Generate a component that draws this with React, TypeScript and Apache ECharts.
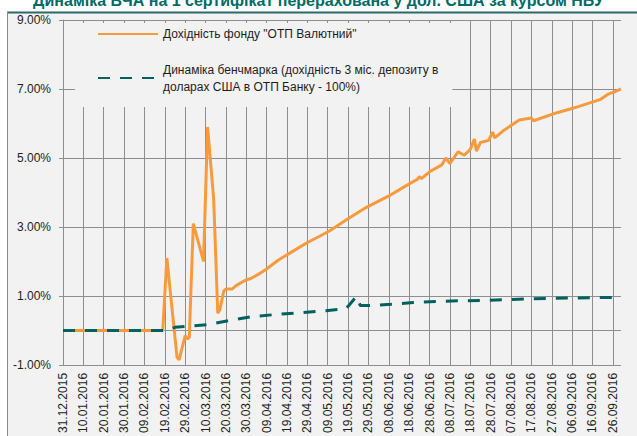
import React, { useEffect, useRef } from "react";
import * as echarts from "echarts";

const titleText = "Динаміка ВЧА на 1 сертифікат перерахована у дол. США за курсом НБУ";
const fundName = 'Дохідність фонду "ОТП Валютний"';
const benchName = "Динаміка бенчмарка";
const benchLegendLines = [
  "Динаміка бенчмарка (дохідність 3 міс. депозиту в",
  "доларах США в ОТП Банку - 100%)",
];

// daily category axis: 31.12.2015 .. 30.09.2016
const axisStart = [2015, 11, 31];
const axisDayCount = 275;
const pad2 = (n: number) => (n < 10 ? "0" + n : "" + n);
const categories: string[] = [];
for (let i = 0; i < axisDayCount; i++) {
  const d = new Date(Date.UTC(axisStart[0], axisStart[1], axisStart[2] + i));
  categories.push(pad2(d.getUTCDate()) + "." + pad2(d.getUTCMonth() + 1) + "." + d.getUTCFullYear());
}

const yTickValues = [-1, 1, 3, 5, 7, 9];

const fundDates = [
  "31.12.2015", "18.02.2016", "20.02.2016", "25.02.2016", "26.02.2016", "29.02.2016",
  "01.03.2016", "02.03.2016", "04.03.2016", "09.03.2016", "11.03.2016", "14.03.2016",
  "16.03.2016", "17.03.2016", "19.03.2016", "20.03.2016", "23.03.2016", "25.03.2016",
  "30.03.2016", "01.04.2016", "05.04.2016", "09.04.2016", "12.04.2016", "15.04.2016",
  "22.04.2016", "29.04.2016", "05.05.2016", "10.05.2016", "18.05.2016", "28.05.2016",
  "08.06.2016", "18.06.2016", "22.06.2016", "23.06.2016", "24.06.2016", "28.06.2016",
  "04.07.2016", "06.07.2016", "08.07.2016", "12.07.2016", "15.07.2016", "18.07.2016",
  "20.07.2016", "21.07.2016", "23.07.2016", "27.07.2016", "29.07.2016", "30.07.2016",
  "03.08.2016", "11.08.2016", "17.08.2016", "18.08.2016", "30.08.2016", "05.09.2016",
  "09.09.2016", "20.09.2016", "24.09.2016", "27.09.2016", "30.09.2016",
];
const fundValues = [
  0, 0, 2.1, -0.78, -0.85, -0.15,
  -0.25, -0.2, 3.1, 2.0, 5.9, 3.8,
  0.5, 0.6, 1.15, 1.2, 1.2, 1.3,
  1.47, 1.5, 1.63, 1.78, 1.92, 2.05,
  2.3, 2.55, 2.73, 2.89, 3.2, 3.57,
  3.9, 4.25, 4.38, 4.46, 4.4, 4.6,
  4.8, 5.0, 4.84, 5.18, 5.08, 5.25,
  5.55, 5.2, 5.45, 5.51, 5.75, 5.58,
  5.78, 6.1, 6.16, 6.08, 6.32, 6.42,
  6.49, 6.7, 6.86, 6.92, 7.0,
];

const benchDates = [
  "31.12.2015", "19.02.2016", "24.02.2016", "11.03.2016", "22.03.2016", "02.04.2016",
  "13.04.2016", "27.04.2016", "08.05.2016", "18.05.2016", "23.05.2016", "25.05.2016",
  "29.05.2016", "09.06.2016", "20.06.2016", "01.07.2016", "12.07.2016", "24.07.2016",
  "03.08.2016", "14.08.2016", "25.08.2016", "05.09.2016", "16.09.2016", "30.09.2016",
];
const benchValues = [
  0, 0, 0.09, 0.17, 0.29, 0.4,
  0.46, 0.52, 0.57, 0.63, 0.98, 0.72,
  0.72, 0.76, 0.81, 0.84, 0.86, 0.87,
  0.89, 0.91, 0.93, 0.94, 0.95, 0.96,
];

const FONT = "'Liberation Sans', Arial, sans-serif";
const GRID_COLOR = "#8e8e8e";

export default function App() {
  const ref = useRef<HTMLDivElement>(null);
  useEffect(() => {
    if (!ref.current) return;
    const chart = echarts.init(ref.current, null, { renderer: "svg" });
    const fundData = fundDates.map((d, i) => [d, fundValues[i]]);
    const benchData = benchDates.map((d, i) => [d, benchValues[i]]);
    chart.setOption({
      animation: false,
      backgroundColor: "#f2f2f2",
      textStyle: { fontFamily: FONT },
      title: {
        text: titleText,
        left: "center",
        top: -13,
        textStyle: { color: "#006a66", fontSize: 16, fontWeight: "bold", fontFamily: FONT },
      },
      graphic: [
        { type: "rect", z: 0, shape: { x: 0, y: 0, width: 637, height: 12 }, style: { fill: "#ffffff" } },
        { type: "rect", z: 0, shape: { x: 0, y: 0, width: 7, height: 436 }, style: { fill: "#ffffff" } },
        { type: "line", z: 1, shape: { x1: 7, y1: 12.5, x2: 637, y2: 12.5 }, style: { stroke: "#2b6a68", lineWidth: 2 } },
        { type: "line", z: 1, shape: { x1: 7.5, y1: 12, x2: 7.5, y2: 436 }, style: { stroke: "#8a8a8a", lineWidth: 1 } },
      ],
      legend: {
        orient: "vertical",
        left: 75,
        top: 23,
        padding: [2.5, 14, 3.5, 22],
        itemGap: 10,
        itemWidth: 60,
        itemHeight: 14,
        backgroundColor: "#f2f2f2",
        itemStyle: { opacity: 0, borderWidth: 0 },
        textStyle: { fontSize: 12, color: "#1e1e1e", lineHeight: 17, fontFamily: FONT },
        formatter: (name: string) => (name === benchName ? benchLegendLines.join("\n") : name),
        data: [
          { name: fundName },
          { name: benchName, textStyle: { padding: [17, 0, 0, 0] } },
        ],
      },
      grid: { left: 63, right: 16, top: 20, bottom: 69, containLabel: false },
      xAxis: {
        type: "category",
        data: categories,
        boundaryGap: false,
        axisLine: { show: false, onZero: false },
        axisTick: { show: false },
        axisLabel: {
          interval: 9,
          rotate: 90,
          fontSize: 12,
          color: "#1e1e1e",
          margin: 8,
          padding: [6, 0, 0, 0],
          fontFamily: FONT,
        },
        splitLine: { show: true, interval: 9, lineStyle: { color: GRID_COLOR, width: 1 } },
      },
      yAxis: {
        type: "value",
        min: yTickValues[0],
        max: yTickValues[yTickValues.length - 1],
        interval: yTickValues[1] - yTickValues[0],
        axisLine: { show: true, lineStyle: { color: GRID_COLOR, width: 1 } },
        axisTick: { show: true, length: 4, lineStyle: { color: GRID_COLOR } },
        axisLabel: {
          formatter: (v: number) => v.toFixed(2) + "%",
          fontSize: 12,
          color: "#1e1e1e",
          margin: 12,
          fontFamily: FONT,
        },
        splitLine: { show: true, lineStyle: { color: GRID_COLOR, width: 1 } },
      },
      series: [
        {
          name: "zero",
          type: "line",
          data: [],
          z: 1,
          silent: true,
          markLine: {
            z: 1,
            silent: true,
            symbol: ["none", "none"],
            label: { show: false },
            lineStyle: { color: GRID_COLOR, width: 1, type: "solid" },
            data: [{ yAxis: 0 }],
          },
        },
        {
          name: fundName,
          type: "line",
          data: fundData,
          symbol: "none",
          showSymbol: false,
          z: 2,
          lineStyle: { color: "#f89a3c", width: 3 },
          itemStyle: { color: "#f89a3c" },
        },
        {
          name: benchName,
          type: "line",
          data: benchData,
          symbol: "none",
          showSymbol: false,
          z: 3,
          lineStyle: { color: "#00625e", width: 3, type: [12, 10] },
          itemStyle: { color: "#00625e" },
        },
      ],
    });
    return () => chart.dispose();
  }, []);
  return (
    <div
      ref={ref}
      style={{ position: "absolute", left: 0, top: 0, width: 637, height: 436 }}
    />
  );
}
